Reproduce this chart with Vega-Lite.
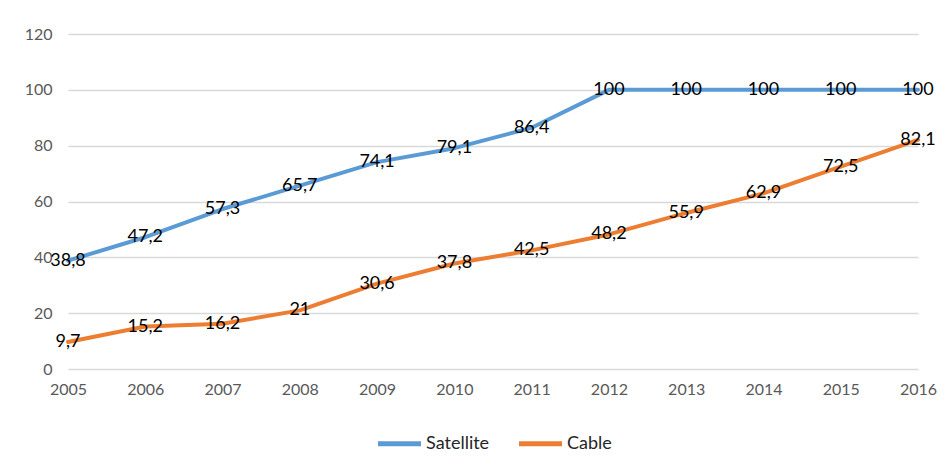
{
  "$schema": "https://vega.github.io/schema/vega-lite/v6.json",
  "autosize": "none",
  "width": 850,
  "height": 335,
  "padding": {"left": 68, "top": 34, "right": 31, "bottom": 100},
  "background": "white",
  "config": {
    "view": {"stroke": null},
    "font": "Lato",
    "locale": {"number": {"decimal": ",", "thousands": ".", "grouping": [3], "currency": ["", ""]}}
  },
  "data": {
    "values": [
      {"year": 2005, "series": "Satellite", "value": 38.8},
      {"year": 2006, "series": "Satellite", "value": 47.2},
      {"year": 2007, "series": "Satellite", "value": 57.3},
      {"year": 2008, "series": "Satellite", "value": 65.7},
      {"year": 2009, "series": "Satellite", "value": 74.1},
      {"year": 2010, "series": "Satellite", "value": 79.1},
      {"year": 2011, "series": "Satellite", "value": 86.4},
      {"year": 2012, "series": "Satellite", "value": 100},
      {"year": 2013, "series": "Satellite", "value": 100},
      {"year": 2014, "series": "Satellite", "value": 100},
      {"year": 2015, "series": "Satellite", "value": 100},
      {"year": 2016, "series": "Satellite", "value": 100},
      {"year": 2005, "series": "Cable", "value": 9.7},
      {"year": 2006, "series": "Cable", "value": 15.2},
      {"year": 2007, "series": "Cable", "value": 16.2},
      {"year": 2008, "series": "Cable", "value": 21},
      {"year": 2009, "series": "Cable", "value": 30.6},
      {"year": 2010, "series": "Cable", "value": 37.8},
      {"year": 2011, "series": "Cable", "value": 42.5},
      {"year": 2012, "series": "Cable", "value": 48.2},
      {"year": 2013, "series": "Cable", "value": 55.9},
      {"year": 2014, "series": "Cable", "value": 62.9},
      {"year": 2015, "series": "Cable", "value": 72.5},
      {"year": 2016, "series": "Cable", "value": 82.1}
    ]
  },
  "encoding": {
    "x": {
      "field": "year", "type": "quantitative",
      "scale": {"domain": [2005, 2016], "nice": false, "zero": false},
      "axis": {
        "title": null, "format": "d", "values": [2005,2006,2007,2008,2009,2010,2011,2012,2013,2014,2015,2016],
        "grid": false, "domain": false, "ticks": false,
        "labelFontSize": 16, "labelColor": "#595959", "labelPadding": 12, "labelFlush": false
      }
    },
    "y": {
      "field": "value", "type": "quantitative",
      "scale": {"domain": [0, 120], "nice": false},
      "axis": {
        "title": null, "values": [0,20,40,60,80,100,120],
        "grid": true, "gridColor": "#D9D9D9", "gridWidth": 1.3,
        "domain": false, "ticks": false,
        "labelFontSize": 16, "labelColor": "#595959", "labelPadding": 16
      }
    }
  },
  "layer": [
    {
      "mark": {"type": "line", "strokeWidth": 4, "strokeCap": "round", "strokeJoin": "round"},
      "encoding": {
        "color": {
          "field": "series", "type": "nominal",
          "scale": {"domain": ["Satellite", "Cable"], "range": ["#5B9BD5", "#ED7D31"]},
          "legend": {
            "title": null, "orient": "none", "direction": "horizontal",
            "legendX": 307, "legendY": 385,
            "symbolType": "stroke", "symbolSize": 1850, "symbolStrokeWidth": 5,
            "labelFontSize": 18, "labelColor": "#262626", "labelOffset": 2,
            "columnPadding": 18
          }
        }
      }
    },
    {
      "mark": {"type": "text", "fontSize": 18, "color": "#000000", "baseline": "middle", "align": "center"},
      "encoding": {
        "text": {"field": "value", "type": "quantitative", "format": ".1~f"}
      }
    }
  ]
}
